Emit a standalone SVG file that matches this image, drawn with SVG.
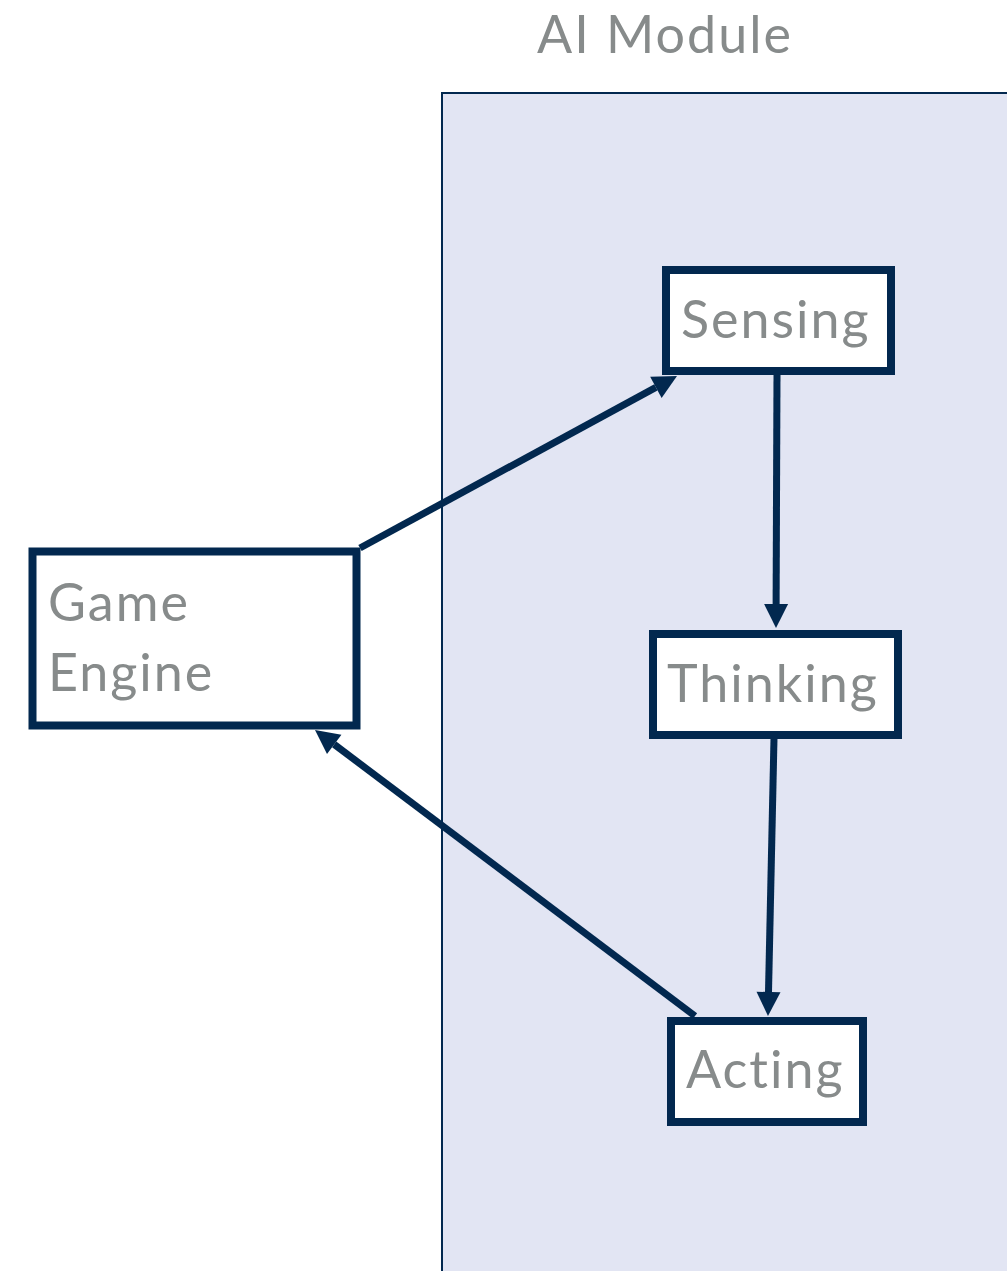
<svg xmlns="http://www.w3.org/2000/svg" width="1007" height="1271" viewBox="0 0 1007 1271">
<style>
.node{fill:#ffffff;stroke:#02284f;stroke-width:8}
.lbl{font-family:Lato,"Noto Sans","Liberation Sans",sans-serif;font-size:52px;letter-spacing:2px;fill:#878b8b}
.edge{stroke:#02284f;stroke-width:7;fill:none}
</style>
<defs>
<marker id="ah" markerUnits="userSpaceOnUse" markerWidth="26" markerHeight="26" refX="0" refY="12" orient="auto" overflow="visible">
<path d="M0,0 L24,12 L0,24 z" fill="#02284f"/>
</marker>
</defs>
<rect width="1007" height="1271" fill="#ffffff"/>
<g id="ai-module">
<rect x="442" y="93" width="600" height="1200" fill="#e2e5f3" stroke="#02284f" stroke-width="2"/>
<text class="lbl" x="537" y="53">AI Module</text>
</g>
<g id="connectors">
<line class="edge" x1="360" y1="548" x2="655.9" y2="387.4" marker-end="url(#ah)"/>
<line class="edge" x1="777" y1="374" x2="776.1" y2="604" marker-end="url(#ah)"/>
<line class="edge" x1="774" y1="738" x2="768.5" y2="992" marker-end="url(#ah)"/>
<line class="edge" x1="695" y1="1016" x2="334.2" y2="744.4" marker-end="url(#ah)"/>
</g>
<g id="sensing">
<rect class="node" x="666" y="270" width="225" height="101"/>
<text class="lbl" x="681" y="338">Sensing</text>
</g>
<g id="thinking">
<rect class="node" x="653" y="634" width="245" height="101"/>
<text class="lbl" x="667" y="702">Thinking</text>
</g>
<g id="acting">
<rect class="node" x="671" y="1021" width="192" height="101"/>
<text class="lbl" x="686" y="1088">Acting</text>
</g>
<g id="game-engine">
<rect class="node" x="32.5" y="551.5" width="324" height="174"/>
<text class="lbl" x="48" y="621">Game</text>
<text class="lbl" x="48" y="691">Engine</text>
</g>
</svg>
